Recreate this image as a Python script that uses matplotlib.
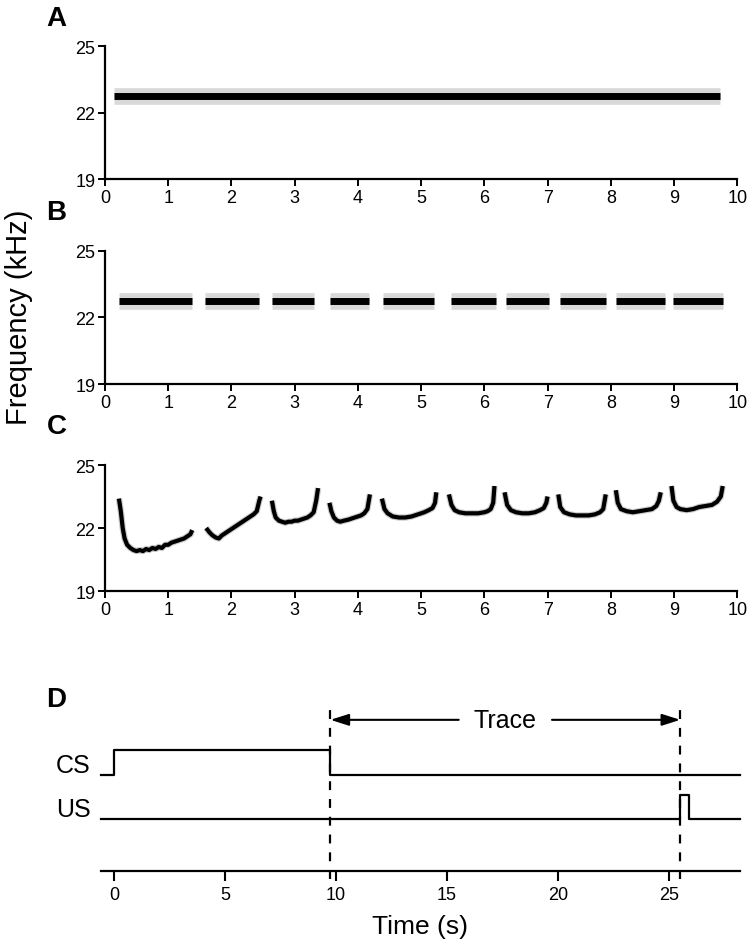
import matplotlib.pyplot as plt

plt.rcParams['font.family'] = ['Liberation Sans', 'DejaVu Sans']

# panel A: one continuous tone
tone_start = 0.15
tone_end = 9.72
tone_freq = 22.75

# panel B: ten pip segments (start, end) in s
pip_starts = [0.22, 1.58, 2.64, 3.56, 4.40, 5.47, 6.34, 7.19, 8.09, 8.99]
pip_ends = [1.38, 2.44, 3.30, 4.17, 5.20, 6.19, 7.02, 7.93, 8.85, 9.78]
pip_freq = 22.75

# panel C: vocalization contours (time s, freq kHz)
voc_t = [
    [0.22, 0.25, 0.28, 0.31, 0.35, 0.40, 0.45, 0.50, 0.55, 0.60, 0.65, 0.70, 0.75,
     0.80, 0.85, 0.90, 0.95, 1.00, 1.05, 1.10, 1.15, 1.20, 1.25, 1.30, 1.35, 1.38],
    [1.60, 1.65, 1.70, 1.75, 1.80, 1.85, 1.90, 1.95, 2.00, 2.05, 2.10, 2.15, 2.20,
     2.25, 2.30, 2.35, 2.40, 2.44, 2.46],
    [2.64, 2.67, 2.70, 2.75, 2.80, 2.85, 2.90, 2.95, 3.00, 3.05, 3.10, 3.15, 3.20,
     3.25, 3.30, 3.34, 3.37],
    [3.55, 3.58, 3.62, 3.67, 3.72, 3.78, 3.85, 3.90, 3.95, 4.00, 4.05, 4.10, 4.15, 4.19],
    [4.38, 4.42, 4.47, 4.55, 4.65, 4.75, 4.85, 4.95, 5.05, 5.12, 5.18, 5.22, 5.24],
    [5.44, 5.48, 5.53, 5.60, 5.70, 5.80, 5.90, 6.00, 6.05, 6.10, 6.14, 6.16],
    [6.32, 6.36, 6.42, 6.50, 6.60, 6.70, 6.80, 6.88, 6.94, 6.98, 7.00],
    [7.17, 7.20, 7.26, 7.35, 7.45, 7.55, 7.65, 7.75, 7.83, 7.88, 7.92],
    [8.08, 8.11, 8.16, 8.25, 8.35, 8.45, 8.55, 8.65, 8.72, 8.76, 8.79],
    [8.96, 8.99, 9.04, 9.10, 9.20, 9.30, 9.40, 9.50, 9.60, 9.68, 9.74, 9.77],
]
voc_f = [
    [23.4, 22.8, 22.0, 21.5, 21.2, 21.05, 20.95, 20.9, 20.95, 20.9, 21.0, 20.95, 21.05,
     21.0, 21.1, 21.05, 21.2, 21.2, 21.3, 21.35, 21.4, 21.45, 21.5, 21.6, 21.7, 21.9],
    [22.0, 21.8, 21.65, 21.55, 21.5, 21.65, 21.75, 21.85, 21.95, 22.05, 22.15, 22.25, 22.35,
     22.45, 22.55, 22.65, 22.8, 23.3, 23.5],
    [23.3, 22.8, 22.5, 22.35, 22.3, 22.25, 22.3, 22.3, 22.35, 22.35, 22.4, 22.45, 22.5,
     22.6, 22.75, 23.3, 23.9],
    [23.2, 22.8, 22.5, 22.35, 22.3, 22.35, 22.4, 22.45, 22.5, 22.55, 22.6, 22.7, 22.9, 23.6],
    [23.4, 22.9, 22.7, 22.55, 22.5, 22.5, 22.55, 22.65, 22.75, 22.85, 22.95, 23.2, 23.7],
    [23.6, 23.1, 22.85, 22.75, 22.7, 22.7, 22.7, 22.75, 22.8, 22.9, 23.2, 24.0],
    [23.7, 23.1, 22.85, 22.75, 22.7, 22.7, 22.75, 22.85, 22.95, 23.2, 23.5],
    [23.6, 23.0, 22.75, 22.65, 22.6, 22.6, 22.6, 22.65, 22.75, 22.9, 23.6],
    [23.8, 23.2, 22.9, 22.8, 22.75, 22.8, 22.85, 22.9, 23.05, 23.3, 23.7],
    [24.0, 23.3, 23.0, 22.9, 22.85, 22.9, 23.0, 23.05, 23.1, 23.25, 23.5, 24.0],
]

# panel D: conditioning protocol timing (s)
cs_on = 0.0
cs_off = 9.75
us_on = 25.5
us_off = 25.9
t_min, t_max = -0.6, 28.2
levels = {'us_low': 1.0, 'us_high': 1.45, 'cs_low': 1.85, 'cs_high': 2.33, 'trace': 2.9}

fig = plt.figure(figsize=(7.5, 9.53), dpi=100)

def freq_axes(rect):
    ax = fig.add_axes(rect)
    ax.set_xlim(0, 10)
    ax.set_ylim(19, 25)
    ax.set_xticks(range(11))
    ax.set_yticks([19, 22, 25])
    for s in ['top', 'right']:
        ax.spines[s].set_visible(False)
    for s in ['left', 'bottom']:
        ax.spines[s].set_linewidth(1.6)
    ax.tick_params(width=1.4, length=5, labelsize=13, pad=2)
    return ax

axA = freq_axes([0.14, 0.811, 0.843, 0.1396])
axA.plot([tone_start, tone_end], [tone_freq, tone_freq], color='#d9d9d9', lw=12, solid_capstyle='butt')
axA.plot([tone_start, tone_end], [tone_freq, tone_freq], color='black', lw=5, solid_capstyle='butt')

axB = freq_axes([0.14, 0.596, 0.843, 0.1396])
for a, b in zip(pip_starts, pip_ends):
    axB.plot([a, b], [pip_freq, pip_freq], color='#d9d9d9', lw=12, solid_capstyle='butt')
    axB.plot([a, b], [pip_freq, pip_freq], color='black', lw=5, solid_capstyle='butt')

axC = freq_axes([0.14, 0.3788, 0.843, 0.1322])
for t, f in zip(voc_t, voc_f):
    axC.plot(t, f, color='#cccccc', lw=4.6, solid_capstyle='butt')
    axC.plot(t, f, color='black', lw=3.0, solid_capstyle='butt')

fig.text(0.062, 0.980, 'A', fontsize=20, fontweight='bold', va='center')
fig.text(0.062, 0.776, 'B', fontsize=20, fontweight='bold', va='center')
fig.text(0.062, 0.552, 'C', fontsize=20, fontweight='bold', va='center')
fig.text(0.062, 0.266, 'D', fontsize=20, fontweight='bold', va='center')
fig.text(0.025, 0.667, 'Frequency (kHz)', fontsize=21, rotation=90, ha='center', va='center')

# panel D
axD = fig.add_axes([0.134, 0.085, 0.853, 0.1805])
axD.set_xlim(t_min, t_max)
axD.set_ylim(0, 3.3)
for s in ['top', 'right', 'left']:
    axD.spines[s].set_visible(False)
axD.spines['bottom'].set_linewidth(1.6)
axD.set_yticks([])
axD.set_xticks([0, 5, 10, 15, 20, 25])
axD.tick_params(width=1.5, length=7.5, labelsize=13, pad=3)
axD.set_xlabel('Time (s)', fontsize=19, labelpad=8)

L = levels
axD.plot([t_min, cs_on, cs_on, cs_off, cs_off, t_max],
         [L['cs_low'], L['cs_low'], L['cs_high'], L['cs_high'], L['cs_low'], L['cs_low']],
         color='black', lw=1.6, clip_on=False)
axD.plot([t_min, us_on, us_on, us_off, us_off, t_max],
         [L['us_low'], L['us_low'], L['us_high'], L['us_high'], L['us_low'], L['us_low']],
         color='black', lw=1.6, clip_on=False)
for x in [cs_off, us_on]:
    axD.plot([x, x], [-0.15, 3.2], color='black', lw=1.6, ls=(0, (4, 4)), clip_on=False)

mid = (cs_off + us_on) / 2
axD.text(mid, L['trace'], 'Trace', fontsize=18, ha='center', va='center')
arrow = dict(arrowstyle='-|>,head_length=1.1,head_width=0.35', color='black', lw=1.5, shrinkA=0, shrinkB=0)
axD.annotate('', xy=(cs_off, L['trace']), xytext=(mid - 2.1, L['trace']), arrowprops=arrow)
axD.annotate('', xy=(us_on, L['trace']), xytext=(mid + 2.1, L['trace']), arrowprops=arrow)

axD.text(-1.05, (L['cs_low'] + L['cs_high']) / 2 - 0.05, 'CS', fontsize=18, ha='right', va='center')
axD.text(-1.05, L['us_low'] + 0.18, 'US', fontsize=18, ha='right', va='center')

fig.savefig('out.png', dpi=100)
